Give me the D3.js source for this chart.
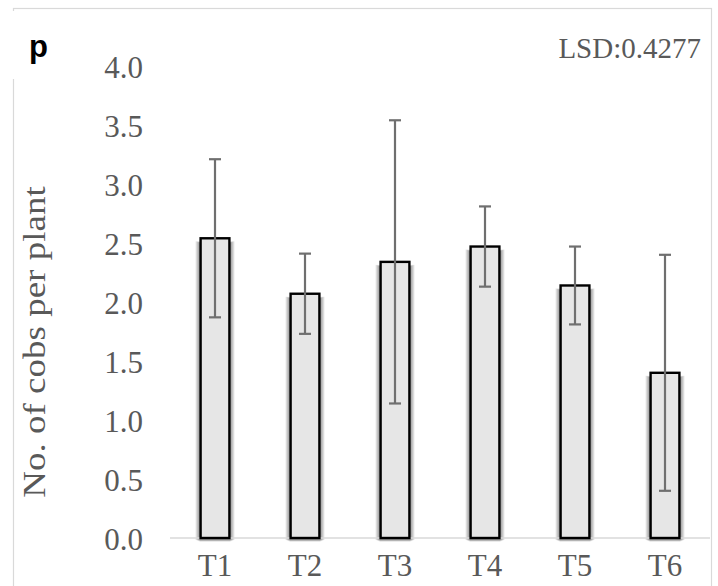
<!DOCTYPE html>
<html>
<head>
<meta charset="utf-8">
<script src="https://cdn.jsdelivr.net/npm/d3@7/dist/d3.min.js"></script>
<style>
  html, body { margin: 0; padding: 0; background: #fff; }
  svg { display: block; }
</style>
</head>
<body>
<svg id="chart" width="718" height="586"></svg>
<script>
const categories = ["T1", "T2", "T3", "T4", "T5", "T6"];
const means = [2.54, 2.07, 2.34, 2.47, 2.14, 1.40];
const errors = [0.67, 0.34, 1.20, 0.34, 0.33, 1.00];
const yTicks = [0, 0.5, 1.0, 1.5, 2.0, 2.5, 3.0, 3.5, 4.0];
const yTitle = "No. of cobs per plant";
const panelLabel = "p";
const lsdLabel = "LSD:0.4277";

const svg = d3.select("#chart");
const serif = "'Liberation Serif', 'Times New Roman', serif";
const margin = { left: 170, top: 66 };
const plotRight = 710, plotBottom = 538;

// Outer chart border
svg.append("rect")
  .attr("x", 13.5).attr("y", 8.5)
  .attr("width", 698).attr("height", 600)
  .attr("fill", "#fff").attr("stroke", "#d9d9d9").attr("stroke-width", 1.2);

// white box behind panel label
svg.append("rect").attr("x", 0).attr("y", 11).attr("width", 56).attr("height", 68).attr("fill", "#fff");

const x = d3.scaleBand().domain(categories).range([margin.left, plotRight]).paddingInner(0.68).paddingOuter(0.34);
const y = d3.scaleLinear().domain([0, 4]).range([plotBottom, margin.top]);

// bar shadows (layered soft edges)
const shadowSteps = [1, 2, 3, 4, 5];
const sg = svg.append("g");
shadowSteps.forEach(k => {
  sg.append("g").selectAll("rect").data(categories).join("rect")
    .attr("x", d => x(d) - k)
    .attr("y", (d, i) => y(means[i]) + 5 - k * 0.4)
    .attr("width", x.bandwidth() + 2 * k)
    .attr("height", (d, i) => y(0) - y(means[i]) - 1)
    .attr("fill", "#000")
    .attr("opacity", 0.1);
});

// baseline
svg.append("line")
  .attr("x1", margin.left).attr("x2", plotRight)
  .attr("y1", y(0)).attr("y2", y(0))
  .attr("stroke", "#d9d9d9").attr("stroke-width", 1.5);

// bars
svg.append("g").selectAll("rect").data(categories).join("rect")
  .attr("x", d => x(d))
  .attr("y", (d, i) => y(means[i]))
  .attr("width", x.bandwidth())
  .attr("height", (d, i) => y(0) - y(means[i]))
  .attr("fill", "#e6e6e6")
  .attr("stroke", "#000")
  .attr("stroke-width", 2.4);

// error bars
const eg = svg.append("g").attr("stroke", "#6f6f6f").attr("stroke-width", 2.2);
categories.forEach((c, i) => {
  const cx = x(c) + x.bandwidth() / 2;
  const hi = y(means[i] + errors[i]), lo = y(means[i] - errors[i]);
  eg.append("line").attr("x1", cx).attr("x2", cx).attr("y1", hi).attr("y2", lo);
  eg.append("line").attr("x1", cx - 6).attr("x2", cx + 6).attr("y1", hi).attr("y2", hi);
  eg.append("line").attr("x1", cx - 6).attr("x2", cx + 6).attr("y1", lo).attr("y2", lo);
});

// y axis (labels only)
const yAxis = d3.axisLeft(y).tickValues(yTicks).tickFormat(d3.format(".1f")).tickSize(0).tickPadding(0);
const yg = svg.append("g").attr("transform", "translate(143,0)").call(yAxis);
yg.select(".domain").remove();
yg.selectAll("text")
  .attr("font-family", serif)
  .attr("font-size", 31).attr("fill", "#595959").attr("dy", "0.36em");

// x axis (labels only)
const xAxis = d3.axisBottom(x).tickSize(0).tickPadding(0);
const xg = svg.append("g").attr("transform", `translate(0,${plotBottom + 9})`).call(xAxis);
xg.select(".domain").remove();
xg.selectAll("text")
  .attr("font-family", serif)
  .attr("font-size", 31).attr("fill", "#595959").attr("dy", "0.95em");

// y title
svg.append("text")
  .attr("transform", `translate(45,${(y(0) + y(4)) / 2 + 40}) rotate(-90) scale(1,0.83)`)
  .attr("text-anchor", "middle")
  .attr("font-family", serif)
  .attr("font-size", 37).attr("fill", "#595959")
  .text(yTitle);

// panel label
svg.append("text")
  .attr("x", 29).attr("y", 57)
  .attr("font-family", "'Liberation Sans', Arial, sans-serif")
  .attr("font-weight", "bold").attr("font-size", 31).attr("fill", "#000")
  .text(panelLabel);

// LSD label
svg.append("text")
  .attr("x", 701).attr("y", 58)
  .attr("text-anchor", "end")
  .attr("font-family", serif)
  .attr("font-size", 29).attr("fill", "#595959")
  .text(lsdLabel);
</script>
</body>
</html>
